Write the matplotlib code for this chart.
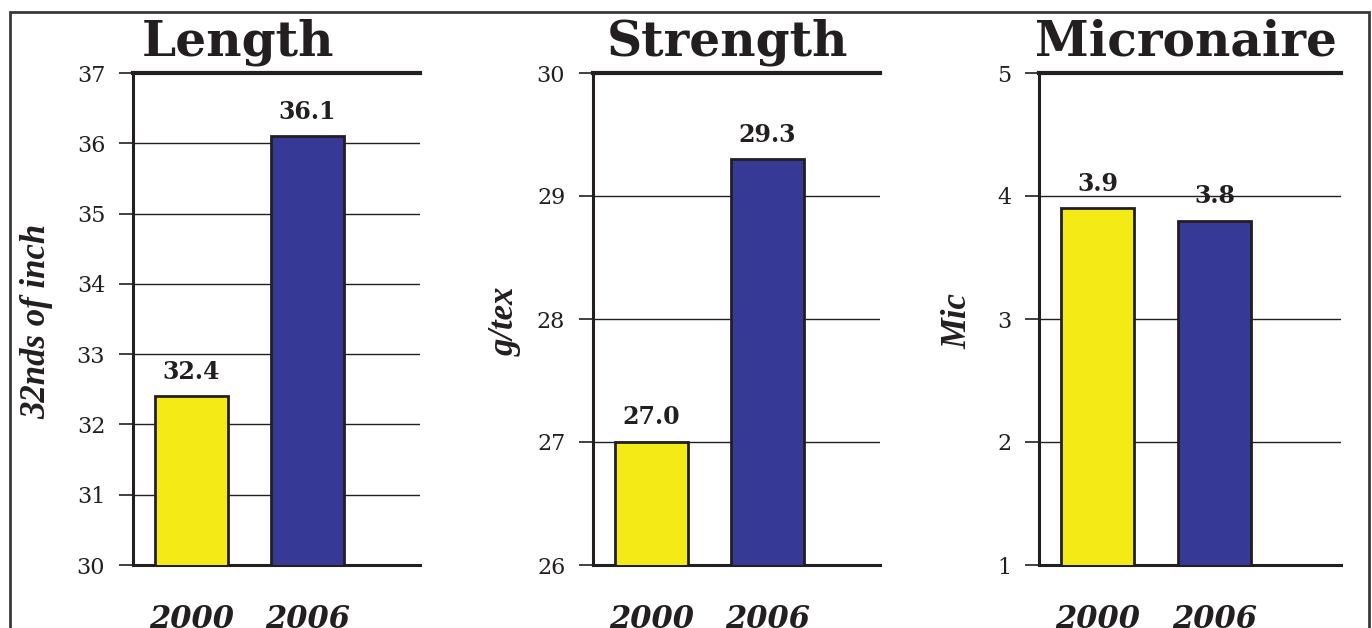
import matplotlib
matplotlib.use("Agg")
import matplotlib.pyplot as plt
from matplotlib.patches import Rectangle

# Fibre quality comparison, 2000 vs 2006
years = ["2000", "2006"]
titles = ["Length", "Strength", "Micronaire"]
units = ["32nds of inch", "g/tex", "Mic"]
length_vals = [32.4, 36.1]
strength_vals = [27.0, 29.3]
mic_vals = [3.9, 3.8]
length_ticks = [30, 31, 32, 33, 34, 35, 36, 37]
strength_ticks = [26, 27, 28, 29, 30]
mic_ticks = [1, 2, 3, 4, 5]

bar_colors = ["#F4EA16", "#363996"]
ink = "#231F20"

W, H = 1372, 628
fig = plt.figure(figsize=(W / 100, H / 100), dpi=100)
fig.patch.set_facecolor("white")

# outer frame (open at the bottom edge of the page)
fig.add_artist(Rectangle((10 / W, -0.1), (1369 - 10) / W, 1.1 - 12 / H,
                         transform=fig.transFigure, fill=False,
                         edgecolor="#3a3a3a", linewidth=2.0))

panels = [
    dict(left=133, right=420, vals=length_vals, ticks=length_ticks,
         xlim=(-0.504, 1.97), title_x=238, ylab_x=37),
    dict(left=593, right=880, vals=strength_vals, ticks=strength_ticks,
         xlim=(-0.504, 1.97), title_x=727, ylab_x=505),
    dict(left=1039, right=1341, vals=mic_vals, ticks=mic_ticks,
         xlim=(-0.5, 2.08), title_x=1186, ylab_x=958),
]
top_px, bot_px = 73, 565

for p, title, unit in zip(panels, titles, units):
    ax = fig.add_axes([p["left"] / W, 1 - bot_px / H,
                       (p["right"] - p["left"]) / W, (bot_px - top_px) / H])
    ax.set_xlim(*p["xlim"])
    ax.set_ylim(p["ticks"][0], p["ticks"][-1])
    ax.set_yticks(p["ticks"])
    ax.set_yticklabels([str(t) for t in p["ticks"]],
                       fontfamily="DejaVu Serif", fontsize=16, color=ink)
    ax.tick_params(axis="y", direction="out", length=10, width=1.2,
                   color=ink, pad=10)
    ax.yaxis.grid(True, color=ink, linewidth=1.0)
    ax.set_axisbelow(True)
    ax.set_xticks([0, 1])
    ax.set_xticklabels(years, fontfamily="DejaVu Serif", fontweight="bold",
                       fontstyle="italic", fontsize=22, color=ink)
    ax.tick_params(axis="x", length=0, pad=28)
    for s in ["left", "bottom", "top"]:
        ax.spines[s].set_color(ink)
        ax.spines[s].set_linewidth(2.2)
    ax.spines["top"].set_linewidth(3.0)
    ax.spines["right"].set_visible(False)

    bars = ax.bar([0, 1], p["vals"], width=0.63, color=bar_colors,
                  edgecolor=ink, linewidth=2.0, zorder=3)
    for b, v in zip(bars, p["vals"]):
        ax.annotate(f"{v:.1f}", (b.get_x() + b.get_width() / 2, v),
                    xytext=(0, 9), textcoords="offset points",
                    ha="center", va="bottom", fontfamily="DejaVu Serif",
                    fontweight="bold", fontsize=17, color=ink)

    fig.text(p["title_x"] / W, 1 - 55 / H, title, ha="center", va="baseline",
             fontfamily="DejaVu Serif", fontweight="bold", fontsize=35,
             color=ink)
    fig.text(p["ylab_x"] / W, 1 - 321 / H, unit, rotation=90,
             ha="center", va="center", fontfamily="Liberation Serif",
             fontweight="bold", fontstyle="italic", fontsize=25, color=ink)

fig.savefig("out.png", dpi=100, facecolor="white")
